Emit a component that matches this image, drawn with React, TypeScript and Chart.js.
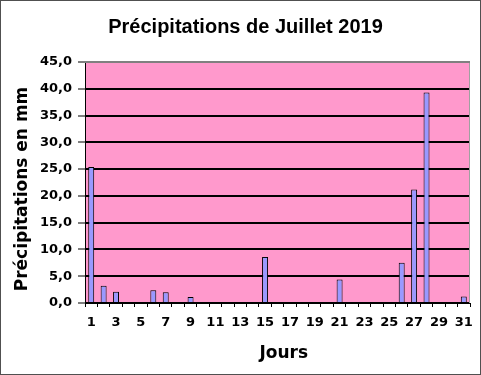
import React, { useEffect, useRef } from "react";
import { Chart, registerables } from "chart.js";

Chart.register(...registerables);

const days: string[] = Array.from({ length: 31 }, (_, i) => String(i + 1));
const rainfall: number[] = [
  25.4, 3.2, 2.1, 0, 0, 2.4, 2.0, 0, 1.1, 0,
  0, 0, 0, 0, 8.6, 0, 0, 0, 0, 0,
  4.4, 0, 0, 0, 0, 7.5, 21.2, 39.3, 0, 0,
  1.2,
];
const chartTitle = "Précipitations de Juillet 2019";
const yTitle = "Précipitations en mm";
const xTitle = "Jours";

const decoPlugin = {
  id: "deco",
  beforeDraw(chart: any) {
    const { ctx, chartArea: a } = chart;
    ctx.save();
    ctx.fillStyle = "#ffffff";
    ctx.fillRect(0, 0, chart.width, chart.height);
    ctx.fillStyle = "#FF99CC";
    ctx.fillRect(a.left, a.top, a.right - a.left, a.bottom - a.top);
    ctx.restore();
  },
  beforeDatasetsDraw(chart: any) {
    const { ctx, chartArea: a } = chart;
    ctx.save();
    ctx.strokeStyle = "#a0a0a0";
    ctx.lineWidth = 1;
    ctx.beginPath();
    ctx.moveTo(a.right - 0.5, a.top);
    ctx.lineTo(a.right - 0.5, a.bottom);
    ctx.stroke();
    ctx.strokeStyle = "#808080";
    ctx.lineWidth = 2;
    ctx.beginPath();
    ctx.moveTo(a.left, a.top);
    ctx.lineTo(a.right, a.top);
    ctx.stroke();
    ctx.restore();
  },
  afterDraw(chart: any) {
    const { ctx } = chart;
    ctx.save();
    ctx.fillStyle = "#000000";
    ctx.textAlign = "center";
    ctx.textBaseline = "alphabetic";
    ctx.font = "bold 20px 'Liberation Sans', Arial, sans-serif";
    ctx.fillText(chartTitle, 245.5, 33);
    ctx.font = "bold 17px 'DejaVu Sans', sans-serif";
    ctx.fillText(xTitle, 283.7, 358);
    ctx.translate(26.7, 189);
    ctx.rotate(-Math.PI / 2);
    ctx.fillText(yTitle, 0, 0);
    ctx.restore();
    ctx.save();
    ctx.strokeStyle = "#505050";
    ctx.lineWidth = 1;
    ctx.strokeRect(0.5, 0.5, chart.width - 1, chart.height - 1);
    ctx.restore();
  },
};

export default function App() {
  const ref = useRef<HTMLCanvasElement | null>(null);
  useEffect(() => {
    if (!ref.current) return;
    const chart = new Chart(ref.current, {
      type: "bar",
      data: {
        labels: days,
        datasets: [
          {
            data: rainfall,
            backgroundColor: "#9999FF",
            borderColor: "#000000",
            borderWidth: 1,
            categoryPercentage: 1,
            barPercentage: 0.48,
          },
        ],
      },
      options: {
        responsive: false,
        animation: false,
        devicePixelRatio: 1,
        layout: { padding: { top: 62, right: 10, bottom: 0, left: 0 } },
        plugins: {
          legend: { display: false },
          title: { display: false },
          tooltip: { enabled: false },
        },
        scales: {
          x: {
            type: "category",
            offset: true,
            afterFit: (s: any) => {
              s.height = 72;
            },
            grid: {
              offset: true,
              drawOnChartArea: false,
              drawTicks: true,
              tickLength: 4,
              color: "#000000",
              tickColor: "#000000",
            },
            border: { color: "#000000", width: 1 },
            ticks: {
              autoSkip: false,
              maxRotation: 0,
              padding: 8,
              color: "#000000",
              font: { family: "'DejaVu Sans', sans-serif", size: 13, weight: "bold" },
              callback: (_v: any, i: number) => (i % 2 === 0 ? days[i] : ""),
            },
          },
          y: {
            min: 0,
            max: 45,
            afterFit: (s: any) => {
              s.width = 85;
            },
            grid: {
              drawTicks: true,
              tickLength: 7,
              color: (c: any) => (c.tick && c.tick.value === 45 ? "rgba(0,0,0,0)" : "#000000"),
              lineWidth: 2,
              tickColor: "#000000",
              tickWidth: 1,
            },
            border: { color: "#000000", width: 1 },
            ticks: {
              stepSize: 5,
              padding: 6,
              color: "#000000",
              font: { family: "'DejaVu Sans', sans-serif", size: 13, weight: "bold" },
              callback: (v: any) => Number(v).toFixed(1).replace(".", ","),
            },
          },
        },
      },
      plugins: [decoPlugin],
    });
    return () => chart.destroy();
  }, []);
  return (
    <div style={{ position: "fixed", left: 0, top: 0, width: 481, height: 375 }}>
      <canvas ref={ref} width={481} height={375} />
    </div>
  );
}
